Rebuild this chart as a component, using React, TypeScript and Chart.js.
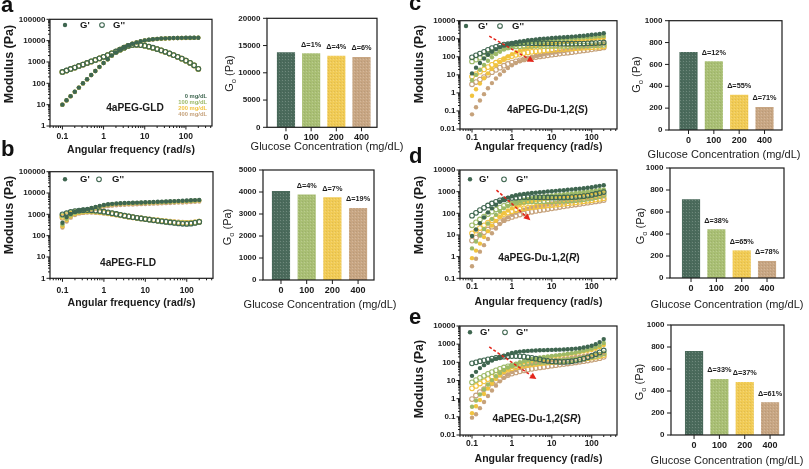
import React, { useEffect, useRef } from 'react';
import { Chart, registerables } from 'chart.js';

Chart.register(...registerables);

// ------------------------------------------------------------------ data
const FREQ = [0.1, 0.126, 0.158, 0.2, 0.251, 0.316, 0.398, 0.501, 0.631, 0.794, 1, 1.26, 1.58, 2, 2.51, 3.16, 3.98, 5.01, 6.31, 7.94, 10, 12.6, 15.8, 20, 25.1, 31.6, 39.8, 50.1, 63.1, 79.4, 100, 126, 158, 200];
const CONC = ['0', '100', '200', '400'];
const CONC_LEGEND = ['0 mg/dL', '100 mg/dL', '200 mg/dL', '400 mg/dL'];
const X_TICKS = [0.1, 1, 10, 100];
const Y_TICKS_1_1E5 = [1, 10, 100, 1000, 10000, 100000];
const Y_TICKS_001_1E4 = [0.01, 0.1, 1, 10, 100, 1000, 10000];
const Y_TICKS_01_1E4 = [0.1, 1, 10, 100, 1000, 10000];

// a: 4aPEG-GLD (the four concentrations overlap almost exactly)
const A_GP_0 = [10, 16, 25, 40, 63, 100, 155, 245, 380, 590, 900, 1350, 2000, 2800, 3800, 4900, 6000, 7200, 8300, 9300, 10300, 11000, 11600, 12100, 12500, 12800, 13050, 13250, 13400, 13500, 13550, 13600, 13650, 13700];
const A_GP_100 = [10, 16, 25, 40, 63, 99, 154, 244, 378, 587, 896, 1343, 1990, 2786, 3781, 4875, 5970, 7164, 8258, 9253, 10250, 10945, 11540, 12040, 12440, 12740, 12985, 13185, 13330, 13430, 13480, 13530, 13580, 13630];
const A_GP_200 = [9.9, 15.8, 24.8, 39.6, 62.4, 99, 153, 243, 376, 584, 891, 1337, 1980, 2772, 3762, 4851, 5940, 7128, 8217, 9207, 10200, 10890, 11480, 11980, 12380, 12670, 12920, 13120, 13270, 13370, 13410, 13460, 13510, 13560];
const A_GP_400 = [9.85, 15.8, 24.6, 39.4, 62, 98.5, 153, 241, 374, 581, 887, 1330, 1970, 2758, 3743, 4827, 5910, 7092, 8176, 9160, 10150, 10835, 11425, 11920, 12310, 12610, 12850, 13050, 13200, 13300, 13350, 13400, 13445, 13495];
const A_GPP_0 = [340, 400, 470, 550, 650, 760, 900, 1060, 1250, 1480, 1750, 2100, 2550, 3100, 3800, 4700, 5700, 6300, 6400, 6200, 5800, 5250, 4650, 4050, 3500, 3000, 2520, 2100, 1750, 1440, 1160, 920, 700, 480];
const A_GPP_100 = [338, 398, 468, 547, 647, 756, 896, 1055, 1244, 1473, 1741, 2090, 2537, 3085, 3781, 4677, 5672, 6269, 6368, 6169, 5771, 5224, 4627, 4030, 3483, 2985, 2507, 2090, 1741, 1433, 1154, 915, 697, 478];
const A_GPP_200 = [337, 396, 465, 545, 644, 752, 891, 1049, 1238, 1465, 1733, 2079, 2525, 3069, 3762, 4653, 5643, 6237, 6336, 6138, 5742, 5198, 4604, 4010, 3465, 2970, 2495, 2079, 1733, 1426, 1148, 911, 693, 475];
const A_GPP_400 = [335, 394, 463, 542, 640, 749, 887, 1044, 1231, 1458, 1724, 2069, 2512, 3054, 3743, 4630, 5615, 6206, 6304, 6107, 5713, 5171, 4580, 3989, 3448, 2955, 2482, 2069, 1724, 1418, 1143, 906, 690, 473];

// b: 4aPEG-FLD
const B_GP_0 = [400, 750, 1050, 1300, 1500, 1650, 1800, 2000, 2250, 2500, 2750, 2950, 3100, 3200, 3300, 3380, 3450, 3500, 3560, 3620, 3680, 3750, 3820, 3880, 3950, 4020, 4100, 4180, 4260, 4350, 4450, 4550, 4650, 4750];
const B_GP_100 = [330, 620, 900, 1150, 1380, 1550, 1700, 1900, 2150, 2400, 2650, 2850, 3000, 3100, 3200, 3280, 3340, 3390, 3440, 3500, 3550, 3610, 3680, 3740, 3800, 3870, 3940, 4010, 4090, 4170, 4260, 4350, 4450, 4550];
const B_GP_200 = [280, 540, 820, 1080, 1300, 1480, 1650, 1850, 2100, 2350, 2580, 2780, 2920, 3020, 3120, 3190, 3250, 3300, 3350, 3400, 3450, 3510, 3570, 3630, 3700, 3760, 3830, 3900, 3980, 4060, 4140, 4230, 4320, 4420];
const B_GP_400 = [240, 460, 700, 930, 1150, 1330, 1480, 1650, 1850, 2050, 2250, 2420, 2550, 2650, 2730, 2800, 2860, 2910, 2960, 3010, 3060, 3110, 3170, 3230, 3290, 3350, 3410, 3480, 3550, 3620, 3700, 3780, 3860, 3950];
const B_GPP_0 = [1000, 1150, 1300, 1420, 1500, 1560, 1580, 1550, 1500, 1430, 1340, 1240, 1140, 1040, 950, 870, 800, 740, 690, 640, 600, 560, 525, 495, 465, 440, 415, 395, 375, 360, 355, 365, 395, 440];
const B_GPP_100 = [900, 1050, 1200, 1330, 1420, 1480, 1500, 1480, 1430, 1370, 1290, 1200, 1110, 1020, 940, 860, 800, 740, 690, 645, 605, 570, 535, 505, 480, 455, 430, 410, 395, 385, 380, 390, 410, 450];
const B_GPP_200 = [780, 920, 1070, 1200, 1300, 1370, 1400, 1390, 1350, 1300, 1230, 1150, 1070, 990, 910, 840, 780, 730, 680, 640, 605, 570, 540, 515, 490, 465, 445, 425, 410, 400, 395, 400, 420, 455];
const B_GPP_400 = [700, 830, 970, 1100, 1200, 1270, 1310, 1310, 1280, 1240, 1180, 1110, 1040, 970, 900, 835, 780, 730, 685, 645, 610, 575, 545, 520, 495, 470, 450, 430, 415, 405, 400, 405, 420, 450];

// c: 4aPEG-Du-1,2(S)
const C_GP_0 = [12, 25, 45, 80, 130, 190, 260, 340, 420, 500, 570, 640, 700, 760, 820, 870, 920, 970, 1010, 1050, 1100, 1140, 1180, 1220, 1260, 1310, 1360, 1420, 1480, 1550, 1650, 1750, 1860, 2000];
const C_GP_100 = [5, 10, 19, 35, 60, 95, 140, 190, 250, 310, 370, 430, 490, 550, 600, 650, 700, 740, 780, 820, 860, 900, 930, 970, 1000, 1040, 1080, 1120, 1160, 1210, 1260, 1310, 1370, 1430];
const C_GP_200 = [0.7, 1.6, 3.3, 6.5, 12, 21, 34, 52, 75, 105, 140, 180, 220, 260, 300, 340, 380, 420, 460, 500, 540, 580, 620, 660, 700, 740, 780, 820, 860, 900, 950, 1000, 1050, 1100];
const C_GP_400 = [0.065, 0.16, 0.38, 0.85, 1.8, 3.5, 6.3, 10.5, 16, 24, 34, 45, 57, 70, 83, 96, 110, 123, 137, 150, 165, 180, 195, 210, 230, 250, 275, 300, 330, 360, 400, 450, 500, 560];
const C_GPP_0 = [93, 120, 150, 190, 240, 300, 360, 420, 470, 510, 540, 560, 570, 575, 575, 570, 565, 560, 555, 550, 545, 540, 535, 530, 530, 530, 535, 540, 545, 555, 565, 580, 600, 620];
const C_GPP_100 = [55, 70, 90, 115, 145, 180, 220, 260, 300, 330, 355, 375, 390, 400, 405, 405, 405, 405, 400, 400, 400, 400, 400, 400, 400, 405, 410, 415, 420, 425, 430, 440, 450, 460];
const C_GPP_200 = [8, 11, 15, 20, 27, 36, 47, 60, 75, 92, 110, 128, 145, 160, 175, 188, 200, 210, 220, 230, 240, 250, 260, 270, 280, 290, 300, 310, 320, 330, 340, 350, 360, 375];
const C_GPP_400 = [3, 4, 5.5, 7.5, 10, 14, 19, 25, 32, 40, 48, 56, 64, 72, 80, 88, 96, 104, 112, 120, 130, 140, 150, 160, 170, 180, 195, 210, 225, 240, 260, 280, 300, 330];

// d: 4aPEG-Du-1,2(R)
const D_GP_0 = [9, 18, 35, 65, 110, 170, 250, 340, 440, 530, 610, 680, 740, 790, 830, 870, 905, 940, 975, 1010, 1050, 1090, 1130, 1170, 1220, 1270, 1320, 1380, 1440, 1510, 1600, 1720, 1850, 2000];
const D_GP_100 = [2.4, 5, 10, 19, 34, 55, 85, 125, 170, 220, 270, 320, 370, 420, 460, 500, 540, 580, 610, 640, 670, 700, 730, 760, 790, 830, 870, 910, 960, 1010, 1070, 1130, 1200, 1280];
const D_GP_200 = [0.85, 1.9, 4, 8, 15, 27, 45, 70, 100, 135, 170, 210, 250, 290, 325, 360, 395, 425, 455, 485, 515, 545, 575, 605, 635, 670, 705, 740, 780, 820, 860, 900, 950, 1000];
const D_GP_400 = [0.36, 0.8, 1.7, 3.4, 6.5, 12, 20, 32, 47, 65, 85, 105, 125, 145, 165, 185, 205, 225, 245, 265, 285, 305, 325, 345, 370, 395, 420, 450, 480, 510, 540, 570, 600, 630];
const D_GPP_0 = [78, 105, 140, 180, 230, 285, 340, 395, 440, 480, 510, 530, 545, 555, 560, 560, 555, 550, 545, 540, 535, 535, 535, 540, 545, 555, 570, 590, 620, 660, 710, 780, 860, 960];
const D_GPP_100 = [28, 38, 52, 70, 92, 120, 150, 185, 220, 255, 285, 310, 330, 345, 355, 360, 365, 365, 365, 365, 365, 370, 375, 380, 390, 400, 415, 430, 450, 480, 510, 560, 620, 700];
const D_GPP_200 = [12, 16, 21, 28, 37, 48, 61, 76, 92, 108, 124, 140, 155, 168, 180, 190, 200, 210, 220, 230, 240, 250, 260, 275, 290, 305, 320, 340, 360, 380, 400, 430, 460, 500];
const D_GPP_400 = [5.5, 7.5, 10, 13.5, 18, 24, 31, 39, 48, 58, 68, 78, 88, 98, 108, 118, 128, 138, 148, 158, 170, 182, 195, 210, 225, 240, 255, 270, 290, 310, 330, 355, 380, 410];

// e: 4aPEG-Du-1,2(SR)
const E_GP_0 = [18, 30, 48, 70, 95, 125, 160, 195, 235, 280, 325, 360, 390, 410, 425, 440, 450, 460, 468, 475, 482, 490, 500, 510, 525, 545, 570, 600, 650, 720, 820, 1000, 1300, 1900];
const E_GP_100 = [0.36, 0.8, 1.7, 3.3, 6, 10.5, 17, 26, 38, 52, 68, 85, 103, 120, 137, 153, 168, 183, 198, 213, 228, 243, 258, 275, 295, 320, 350, 390, 440, 500, 580, 690, 850, 1150];
const E_GP_200 = [0.16, 0.38, 0.85, 1.8, 3.6, 6.8, 12, 19, 29, 41, 55, 70, 86, 102, 118, 134, 150, 165, 180, 195, 210, 225, 240, 258, 278, 300, 325, 355, 390, 430, 480, 560, 680, 900];
const E_GP_400 = [0.09, 0.14, 0.3, 0.65, 1.4, 2.8, 5.2, 9, 14, 21, 29, 38, 48, 58, 68, 78, 88, 98, 108, 118, 128, 138, 148, 158, 170, 183, 197, 212, 228, 245, 260, 275, 290, 300];
const E_GPP_0 = [88, 100, 115, 130, 145, 160, 175, 190, 205, 215, 220, 220, 215, 205, 190, 175, 160, 145, 130, 120, 112, 108, 105, 105, 108, 115, 125, 140, 160, 190, 230, 280, 350, 450];
const E_GPP_100 = [7.9, 10.5, 14, 18, 23, 29, 36, 44, 52, 60, 68, 75, 82, 88, 93, 97, 100, 103, 106, 109, 112, 116, 120, 125, 131, 138, 146, 156, 168, 182, 200, 225, 260, 310];
const E_GPP_200 = [3.7, 5, 6.8, 9, 12, 16, 21, 27, 33, 40, 47, 54, 60, 66, 72, 77, 82, 87, 92, 97, 102, 107, 112, 118, 124, 131, 139, 148, 158, 170, 184, 200, 220, 250];
const E_GPP_400 = [0.95, 1.5, 2.3, 3.4, 5, 7, 9.5, 12.5, 16, 20, 24, 28, 32, 36, 40, 44, 48, 52, 56, 60, 65, 70, 75, 80, 86, 92, 99, 107, 116, 126, 138, 152, 170, 200];

// red guide arrows: [freq0, modulus0, freq1, modulus1]
const C_ARROW = [0.27, 1400, 3.6, 52];
const D_ARROW = [0.41, 1180, 2.9, 48];
const E_ARROW = [0.27, 700, 4.1, 12];

// plateau modulus bars
const A_BAR = [13700, 13520, 13090, 12840];
const B_BAR = [4030, 3870, 3750, 3260];
const C_BAR = [710, 625, 320, 207];
const D_BAR = [712, 440, 248, 152];
const E_BAR = [760, 505, 478, 295];
const A_DELTA = ['', 'Δ=1%', 'Δ=4%', 'Δ=6%'];
const B_DELTA = ['', 'Δ=4%', 'Δ=7%', 'Δ=19%'];
const C_DELTA = ['', 'Δ=12%', 'Δ=55%', 'Δ=71%'];
const D_DELTA = ['', 'Δ=38%', 'Δ=65%', 'Δ=78%'];
const E_DELTA = ['', 'Δ=33%', 'Δ=37%', 'Δ=61%'];

// ------------------------------------------------------------------ style
const FONT = 'Arial, "Liberation Sans", Helvetica, sans-serif';
const INK = '#1b1b1b';
const PT = ['#3f6650', '#9cb967', '#f1c33f', '#c6a27b'];
const BAR_COL = ['#4b6b5c', '#a9bf74', '#f1cb55', '#c8a683'];
const RED = '#e3261b';
const XMIN = 0.05;
const XMAX = 430;

type Rect = { l: number; t: number; r: number; b: number };

interface RheoSpec {
  id: string;
  canvas: Rect;
  plot: Rect;
  yMin: number;
  yMax: number;
  yTicks: number[];
  gp: number[][];
  gpp: number[][];
  xPad: number;
  yTitle: [number, number];
  xTitleY: number;
  legend: [number, number, number, number, number];
  sample: [string, boolean][];
  sampleAt: [number, number];
  conc?: [number, number];
  arrow?: number[];
}

interface BarSpec {
  id: string;
  canvas: Rect;
  plot: Rect;
  yMax: number;
  step: number;
  xMin: number;
  xMax: number;
  vals: number[];
  deltas: string[];
  yTitle: [number, number];
  xTitle: [number, number];
}

const RHEO: RheoSpec[] = [
  {
    id: 'a', canvas: { l: 0, t: 10, r: 222, b: 162 }, plot: { l: 50, t: 19.3, r: 212, b: 126 },
    yMin: 1, yMax: 100000, yTicks: Y_TICKS_1_1E5,
    gp: [A_GP_0, A_GP_100, A_GP_200, A_GP_400], gpp: [A_GPP_0, A_GPP_100, A_GPP_200, A_GPP_400],
    xPad: 6, yTitle: [10, 64], xTitleY: 150, legend: [65, 80, 102, 113, 25],
    sample: [['4aPEG-GLD', false]], sampleAt: [135, 108.3], conc: [207, 96],
  },
  {
    id: 'b', canvas: { l: 0, t: 163, r: 222, b: 315 }, plot: { l: 50, t: 171.7, r: 213, b: 278.3 },
    yMin: 1, yMax: 100000, yTicks: Y_TICKS_1_1E5,
    gp: [B_GP_0, B_GP_100, B_GP_200, B_GP_400], gpp: [B_GPP_0, B_GPP_100, B_GPP_200, B_GPP_400],
    xPad: 7, yTitle: [10, 215], xTitleY: 303, legend: [65, 80, 99, 112, 179.3],
    sample: [['4aPEG-FLD', false]], sampleAt: [128, 263.3],
  },
  {
    id: 'c', canvas: { l: 412, t: 12, r: 624, b: 160 }, plot: { l: 460, t: 20.7, r: 617, b: 129 },
    yMin: 0.01, yMax: 10000, yTicks: Y_TICKS_001_1E4,
    gp: [C_GP_0, C_GP_100, C_GP_200, C_GP_400], gpp: [C_GPP_0, C_GPP_100, C_GPP_200, C_GPP_400],
    xPad: 3.5, yTitle: [420, 64], xTitleY: 147, legend: [466, 478, 500, 512, 26],
    sample: [['4aPEG-Du-1,2(', false], ['S', true], [')', false]], sampleAt: [547.5, 110], arrow: C_ARROW,
  },
  {
    id: 'd', canvas: { l: 412, t: 163, r: 624, b: 312 }, plot: { l: 460, t: 170, r: 617, b: 278.3 },
    yMin: 0.1, yMax: 10000, yTicks: Y_TICKS_01_1E4,
    gp: [D_GP_0, D_GP_100, D_GP_200, D_GP_400], gpp: [D_GPP_0, D_GPP_100, D_GPP_200, D_GPP_400],
    xPad: 3.5, yTitle: [420, 215], xTitleY: 301.7, legend: [470, 479, 504, 516, 179.3],
    sample: [['4aPEG-Du-1,2(', false], ['R', true], [')', false]], sampleAt: [539, 258.3], arrow: D_ARROW,
  },
  {
    id: 'e', canvas: { l: 412, t: 318, r: 624, b: 469 }, plot: { l: 460, t: 326, r: 617, b: 435 },
    yMin: 0.01, yMax: 10000, yTicks: Y_TICKS_001_1E4,
    gp: [E_GP_0, E_GP_100, E_GP_200, E_GP_400], gpp: [E_GPP_0, E_GPP_100, E_GPP_200, E_GPP_400],
    xPad: 4, yTitle: [420, 379], xTitleY: 459.3, legend: [470, 480, 505, 516, 332.3],
    sample: [['4aPEG-Du-1,2(', false], ['SR', true], [')', false]], sampleAt: [536.7, 419], arrow: E_ARROW,
  },
];

const BARS: BarSpec[] = [
  { id: 'a2', canvas: { l: 218, t: 10, r: 405, b: 160 }, plot: { l: 267, t: 18.3, r: 377, b: 127.3 }, yMax: 20000, step: 5000, xMin: -0.754, xMax: 3.616, vals: A_BAR, deltas: A_DELTA, yTitle: [229, 73.5], xTitle: [327, 147] },
  { id: 'b2', canvas: { l: 216, t: 162, r: 405, b: 315 }, plot: { l: 263, t: 170, r: 374, b: 280 }, yMax: 5000, step: 1000, xMin: -0.7, xMax: 3.62, vals: B_BAR, deltas: B_DELTA, yTitle: [227, 227], xTitle: [320, 305] },
  { id: 'c2', canvas: { l: 625, t: 12, r: 809, b: 165 }, plot: { l: 669, t: 20.7, r: 782, b: 130 }, yMax: 1000, step: 200, xMin: -0.77, xMax: 3.69, vals: C_BAR, deltas: C_DELTA, yTitle: [636, 74.5], xTitle: [724, 155] },
  { id: 'd2', canvas: { l: 625, t: 160, r: 809, b: 315 }, plot: { l: 670, t: 168, r: 784, b: 278 }, yMax: 1000, step: 200, xMin: -0.83, xMax: 3.67, vals: D_BAR, deltas: D_DELTA, yTitle: [640, 226], xTitle: [727, 305] },
  { id: 'e2', canvas: { l: 625, t: 318, r: 809, b: 469 }, plot: { l: 671, t: 325, r: 784, b: 435 }, yMax: 1000, step: 200, xMin: -0.91, xMax: 3.55, vals: E_BAR, deltas: E_DELTA, yTitle: [639, 382], xTitle: [727, 461] },
];

const LETTERS: [string, number, number][] = [
  ['a', 1, 12.7], ['b', 1, 157], ['c', 409, 10.5], ['d', 409, 164], ['e', 409, 325],
];

// ------------------------------------------------------------------ helpers
function fixBox(kind: 'x' | 'y', n: number) {
  return (s: any) => {
    if (kind === 'x') s.height = n; else s.width = n;
    s.paddingTop = 0; s.paddingBottom = 0; s.paddingLeft = 0; s.paddingRight = 0;
  };
}

function tickOpts(size: number, pad: number, cb: (v: number) => string) {
  return {
    autoSkip: false, maxRotation: 0, minRotation: 0, padding: pad, color: INK,
    font: { family: FONT, size, weight: 'bold' },
    callback: (v: any) => cb(Number(v)),
  };
}

function line(ctx: CanvasRenderingContext2D, x0: number, y0: number, x1: number, y1: number) {
  ctx.beginPath(); ctx.moveTo(x0, y0); ctx.lineTo(x1, y1); ctx.stroke();
}

function logSteps(min: number, max: number): [number, boolean][] {
  const out: [number, boolean][] = [];
  for (let e = Math.floor(Math.log10(min)) - 1; e <= Math.ceil(Math.log10(max)); e++) {
    for (let m = 1; m < 10; m++) {
      const v = m * Math.pow(10, e);
      if (v >= min * 0.9999 && v <= max * 1.0001) out.push([v, m === 1]);
    }
  }
  return out;
}

function frame(ctx: CanvasRenderingContext2D, ca: any) {
  ctx.strokeStyle = INK; ctx.lineWidth = 1.2;
  ctx.strokeRect(ca.left, ca.top, ca.right - ca.left, ca.bottom - ca.top);
}

function makePattern(color: string): any {
  const c = document.createElement('canvas');
  c.width = 3; c.height = 3;
  const g = c.getContext('2d')!;
  g.fillStyle = color; g.fillRect(0, 0, 3, 3);
  g.fillStyle = 'rgba(255,255,255,0.2)'; g.fillRect(1, 1, 1, 1);
  g.fillStyle = 'rgba(0,0,0,0.07)'; g.fillRect(2, 0, 1, 1);
  const ctx = document.createElement('canvas').getContext('2d')!;
  return ctx.createPattern(c, 'repeat') || color;
}

// ------------------------------------------------------------------ rheology charts
function rheoDecor(s: RheoSpec) {
  return {
    id: 'rheoDecor',
    afterDraw(chart: any) {
      const { ctx, chartArea: ca, scales } = chart;
      const ox = s.canvas.l, oy = s.canvas.t;
      const xs = scales.x, ys = scales.y;
      ctx.save();
      frame(ctx, ca);
      ctx.lineWidth = 1;
      for (const [v, major] of logSteps(XMIN, XMAX)) {
        const px = xs.getPixelForValue(v);
        line(ctx, px, ca.bottom, px, ca.bottom + (major ? 3.5 : 2));
      }
      for (const [v, major] of logSteps(s.yMin, s.yMax)) {
        const py = ys.getPixelForValue(v);
        line(ctx, ca.left - (major ? 3.5 : 2), py, ca.left, py);
      }
      // axis titles
      ctx.fillStyle = INK;
      ctx.save();
      ctx.translate(s.yTitle[0] - ox, s.yTitle[1] - oy);
      ctx.rotate(-Math.PI / 2);
      ctx.font = `bold 12.5px ${FONT}`; ctx.textAlign = 'center'; ctx.textBaseline = 'middle';
      ctx.fillText('Modulus (Pa)', 0, 0);
      ctx.restore();
      ctx.font = `bold 10.5px ${FONT}`; ctx.textAlign = 'center'; ctx.textBaseline = 'middle';
      ctx.fillText('Angular frequency (rad/s)', (ca.left + ca.right) / 2, s.xTitleY - oy);
      // legend
      const [dx, gx, ox2, g2x, ly] = s.legend;
      ctx.fillStyle = PT[0];
      ctx.beginPath(); ctx.arc(dx - ox, ly - oy, 2.2, 0, Math.PI * 2); ctx.fill();
      ctx.strokeStyle = PT[0]; ctx.lineWidth = 1.05;
      ctx.beginPath(); ctx.arc(ox2 - ox, ly - oy, 2.35, 0, Math.PI * 2); ctx.stroke();
      ctx.fillStyle = INK; ctx.font = `bold 9.5px ${FONT}`; ctx.textAlign = 'left'; ctx.textBaseline = 'middle';
      ctx.fillText("G'", gx - ox, ly - oy + 0.5);
      ctx.fillText("G''", g2x - ox, ly - oy + 0.5);
      // sample name
      const size = 10.2;
      const fonts = s.sample.map(([, it]) => `${it ? 'italic ' : ''}bold ${size}px ${FONT}`);
      let total = 0;
      const ws = s.sample.map(([t], i) => { ctx.font = fonts[i]; const w = ctx.measureText(t).width; total += w; return w; });
      let x = s.sampleAt[0] - ox - total / 2;
      s.sample.forEach(([t], i) => { ctx.font = fonts[i]; ctx.fillText(t, x, s.sampleAt[1] - oy); x += ws[i]; });
      // concentration legend
      if (s.conc) {
        ctx.font = `bold 5.8px ${FONT}`; ctx.textAlign = 'right';
        CONC_LEGEND.forEach((t, i) => {
          ctx.fillStyle = PT[i];
          ctx.fillText(t, s.conc![0] - ox, s.conc![1] - oy + i * 6.2);
        });
      }
      // arrow
      if (s.arrow) {
        const [f0, m0, f1, m1] = s.arrow;
        const x0 = xs.getPixelForValue(f0), y0 = ys.getPixelForValue(m0);
        const x1 = xs.getPixelForValue(f1), y1 = ys.getPixelForValue(m1);
        const ang = Math.atan2(y1 - y0, x1 - x0);
        const head = 6.5, hw = 3.3;
        const bx = x1 - head * Math.cos(ang), by = y1 - head * Math.sin(ang);
        ctx.strokeStyle = RED; ctx.lineWidth = 1.5; ctx.setLineDash([3, 2]);
        line(ctx, x0, y0, bx, by);
        ctx.setLineDash([]);
        ctx.fillStyle = RED;
        ctx.beginPath();
        ctx.moveTo(x1, y1);
        ctx.lineTo(bx + hw * Math.sin(ang), by - hw * Math.cos(ang));
        ctx.lineTo(bx - hw * Math.sin(ang), by + hw * Math.cos(ang));
        ctx.closePath(); ctx.fill();
      }
      ctx.restore();
    },
  };
}

function rheoConfig(s: RheoSpec): any {
  const datasets: any[] = [];
  for (let i = 0; i < 4; i++) {
    datasets.push({
      label: `G' ${CONC_LEGEND[i]}`,
      data: FREQ.map((f, k) => ({ x: f, y: s.gp[i][k] })),
      pointRadius: 2.2, pointBorderWidth: 0,
      pointBackgroundColor: PT[i], pointBorderColor: PT[i],
    });
    datasets.push({
      label: `G'' ${CONC_LEGEND[i]}`,
      data: FREQ.map((f, k) => ({ x: f, y: s.gpp[i][k] })),
      pointRadius: 2.35, pointBorderWidth: 1.05,
      pointBackgroundColor: 'rgba(255,255,255,0)', pointBorderColor: PT[i],
    });
  }
  const c = s.canvas, p = s.plot;
  return {
    type: 'scatter',
    data: { datasets },
    options: {
      responsive: false, animation: false, events: [],
      layout: { padding: { left: 0, top: p.t - c.t, right: c.r - p.r, bottom: 0 } },
      plugins: { legend: { display: false }, tooltip: { enabled: false } },
      scales: {
        x: {
          type: 'logarithmic', min: XMIN, max: XMAX,
          grid: { display: false, drawTicks: false }, border: { display: false },
          afterBuildTicks: (ax: any) => { ax.ticks = X_TICKS.map((v) => ({ value: v })); },
          afterFit: fixBox('x', c.b - p.b),
          ticks: tickOpts(8.5, s.xPad, (v) => String(v)),
        },
        y: {
          type: 'logarithmic', min: s.yMin, max: s.yMax,
          grid: { display: false, drawTicks: false }, border: { display: false },
          afterBuildTicks: (ax: any) => { ax.ticks = s.yTicks.map((v) => ({ value: v })); },
          afterFit: fixBox('y', p.l - c.l),
          ticks: tickOpts(8, 4.5, (v) => String(v)),
        },
      },
    },
    plugins: [rheoDecor(s)],
  };
}

// ------------------------------------------------------------------ bar charts
function barDecor(s: BarSpec) {
  return {
    id: 'barDecor',
    afterDraw(chart: any) {
      const { ctx, chartArea: ca, scales } = chart;
      const ox = s.canvas.l, oy = s.canvas.t;
      ctx.save();
      frame(ctx, ca);
      ctx.lineWidth = 1;
      for (const t of scales.y.ticks) {
        const py = scales.y.getPixelForValue(t.value);
        line(ctx, ca.left - 4, py, ca.left, py);
      }
      for (const t of scales.x.ticks) {
        const px = scales.x.getPixelForValue(t.value);
        line(ctx, px, ca.bottom, px, ca.bottom + 4);
      }
      // delta labels
      ctx.fillStyle = INK; ctx.font = `bold 7.3px ${FONT}`; ctx.textAlign = 'center'; ctx.textBaseline = 'middle';
      s.deltas.forEach((d, i) => {
        if (!d) return;
        const px = scales.x.getPixelForValue(i);
        const py = scales.y.getPixelForValue(s.vals[i]) - 9;
        ctx.fillText(d, px, py);
      });
      // y title: G_o (Pa)
      ctx.save();
      ctx.translate(s.yTitle[0] - ox, s.yTitle[1] - oy);
      ctx.rotate(-Math.PI / 2);
      ctx.textBaseline = 'alphabetic'; ctx.textAlign = 'left';
      const big = `11px ${FONT}`, small = `7.5px ${FONT}`;
      ctx.font = big; const wG = ctx.measureText('G').width; const wP = ctx.measureText(' (Pa)').width;
      ctx.font = small; const wo = ctx.measureText('o').width;
      let x = -(wG + wo + wP) / 2;
      ctx.font = big; ctx.fillText('G', x, 4); x += wG;
      ctx.font = small; ctx.fillText('o', x, 6.5); x += wo;
      ctx.font = big; ctx.fillText(' (Pa)', x, 4);
      ctx.restore();
      // x title
      ctx.font = `11px ${FONT}`; ctx.textAlign = 'center'; ctx.textBaseline = 'middle';
      ctx.fillText('Glucose Concentration (mg/dL)', s.xTitle[0] - ox, s.xTitle[1] - oy);
      ctx.restore();
    },
  };
}

function barConfig(s: BarSpec): any {
  const c = s.canvas, p = s.plot;
  return {
    type: 'bar',
    data: {
      datasets: [{
        label: 'G0',
        data: s.vals.map((v, i) => ({ x: i, y: v })),
        backgroundColor: BAR_COL.map(makePattern),
        borderWidth: 0,
        barThickness: 17.5,
      }],
    },
    options: {
      responsive: false, animation: false, events: [],
      layout: { padding: { left: 0, top: p.t - c.t, right: c.r - p.r, bottom: 0 } },
      plugins: { legend: { display: false }, tooltip: { enabled: false } },
      scales: {
        x: {
          type: 'linear', min: s.xMin, max: s.xMax, offset: false,
          grid: { display: false, drawTicks: false }, border: { display: false },
          afterBuildTicks: (ax: any) => { ax.ticks = CONC.map((_, i) => ({ value: i })); },
          afterFit: fixBox('x', c.b - p.b),
          ticks: tickOpts(9, 5, (v) => CONC[Math.round(v)] ?? ''),
        },
        y: {
          type: 'linear', min: 0, max: s.yMax,
          grid: { display: false, drawTicks: false }, border: { display: false },
          afterFit: fixBox('y', p.l - c.l),
          ticks: { ...tickOpts(8, 6.5, (v) => String(v)), stepSize: s.step },
        },
      },
    },
    plugins: [barDecor(s)],
  };
}

// ------------------------------------------------------------------ components
function ChartCanvas({ rect, build }: { rect: Rect; build: () => any }) {
  const ref = useRef<HTMLCanvasElement>(null);
  useEffect(() => {
    const chart = new Chart(ref.current as HTMLCanvasElement, build());
    return () => chart.destroy();
  }, []);
  const w = rect.r - rect.l, h = rect.b - rect.t;
  return (
    <canvas
      ref={ref}
      width={w}
      height={h}
      style={{ position: 'absolute', left: rect.l, top: rect.t, width: w, height: h }}
    />
  );
}

export default function App() {
  return (
    <div style={{ position: 'absolute', left: 0, top: 0, width: 809, height: 469, background: '#ffffff', overflow: 'hidden' }}>
      {RHEO.map((s) => <ChartCanvas key={s.id} rect={s.canvas} build={() => rheoConfig(s)} />)}
      {BARS.map((s) => <ChartCanvas key={s.id} rect={s.canvas} build={() => barConfig(s)} />)}
      {LETTERS.map(([ch, x, base]) => (
        <div
          key={ch}
          style={{ position: 'absolute', left: x, top: base - 18.6, font: `bold 22px ${FONT}`, lineHeight: '22px', color: '#111' }}
        >
          {ch}
        </div>
      ))}
    </div>
  );
}
